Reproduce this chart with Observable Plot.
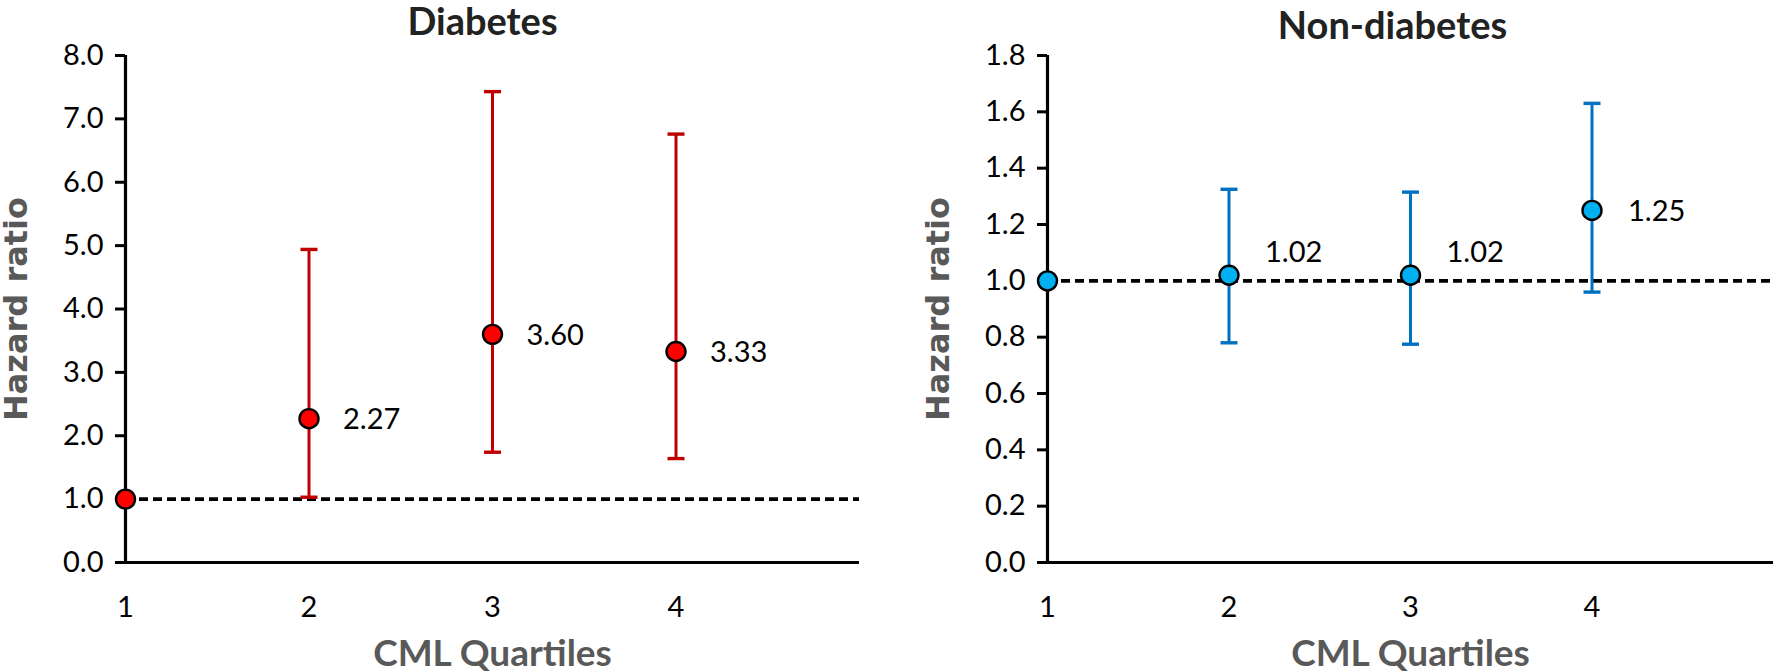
<!DOCTYPE html>
<html>
<head>
<meta charset="utf-8">
<script src="https://cdn.jsdelivr.net/npm/d3@7"></script>
<script src="https://cdn.jsdelivr.net/npm/@observablehq/plot@0.6"></script>
<style>
  html, body { margin: 0; padding: 0; background: #fff; width: 1776px; height: 671px; overflow: hidden; }
  #left, #right { position: absolute; top: 0; }
  #left { left: 0; }
  #right { left: 888px; }
</style>
</head>
<body>
<div id="left"></div>
<div id="right"></div>
<script>
// ---- data ----
const quartiles = [1, 2, 3, 4];
const xTicks = [1, 2, 3, 4];
const xDomain = [1, 5];

const diabetesHR = [1.00, 2.27, 3.60, 3.33];
const diabetesLower = [null, 1.03, 1.74, 1.64];
const diabetesUpper = [null, 4.94, 7.43, 6.76];
const diabetesTicks = [0, 1, 2, 3, 4, 5, 6, 7, 8];

const nonDiabetesHR = [1.00, 1.02, 1.02, 1.25];
const nonDiabetesLower = [null, 0.78, 0.775, 0.96];
const nonDiabetesUpper = [null, 1.325, 1.315, 1.63];
const nonDiabetesTicks = [0, 0.2, 0.4, 0.6, 0.8, 1.0, 1.2, 1.4, 1.6, 1.8];

const xLabel = "CML Quartiles";
const yLabel = "Hazard ratio";

// horizontal cap symbol for error bars
const capSymbol = {
  draw(context, size) {
    const w = Math.sqrt(size / Math.PI);
    context.moveTo(-w, 0);
    context.lineTo(w, 0);
  }
};

function panel(cfg) {
  const rows = quartiles.map((q, i) => ({
    q, hr: cfg.hr[i], lo: cfg.lo[i], hi: cfg.hi[i],
    label: i === 0 ? "" : cfg.hr[i].toFixed(2)
  }));
  const ci = rows.filter(d => d.lo != null);
  const labelled = rows.filter(d => d.label);
  const lifted = cfg.liftNearOne ? labelled.filter(d => d.hr < 1.1) : [];
  const plain = labelled.filter(d => !lifted.includes(d));
  const yDomain = [cfg.ticks[0], cfg.ticks[cfg.ticks.length - 1]];
  return Plot.plot({
    width: cfg.width,
    height: 671,
    marginTop: 55,
    marginBottom: 109,
    marginLeft: cfg.marginLeft,
    marginRight: cfg.marginRight,
    style: { fontFamily: "Lato, sans-serif", background: "white", overflow: "visible", color: "#000" },
    x: { domain: xDomain },
    y: { domain: yDomain },
    marks: [
      Plot.axisY({
        ticks: cfg.ticks, tickFormat: d => d.toFixed(1), tickSize: 10, tickPadding: 12,
        strokeWidth: 3, stroke: "#000", fontSize: 29, fill: "#000", label: null
      }),
      Plot.axisX({
        ticks: xTicks, tickFormat: d => String(d), tickSize: 0, tickPadding: 34,
        fontSize: 29, fill: "#000", label: null
      }),
      Plot.ruleY([yDomain[0]], { stroke: "#000", strokeWidth: 3.2 }),
      Plot.ruleX([xDomain[0]], { stroke: "#000", strokeWidth: 3.2 }),
      Plot.ruleY([1], { stroke: "#000", strokeWidth: 3.6, strokeDasharray: "9,5" }),
      Plot.ruleX(ci, { x: "q", y1: "lo", y2: "hi", stroke: cfg.barColor, strokeWidth: 3 }),
      Plot.dot(ci, { x: "q", y: "lo", symbol: capSymbol, r: 8.5, fill: "none", stroke: cfg.barColor, strokeWidth: 3.4 }),
      Plot.dot(ci, { x: "q", y: "hi", symbol: capSymbol, r: 8.5, fill: "none", stroke: cfg.barColor, strokeWidth: 3.4 }),
      Plot.dot(rows, { x: "q", y: "hr", r: 9.5, fill: cfg.fill, stroke: "#000", strokeWidth: 2.4 }),
      Plot.text(plain, { x: "q", y: "hr", text: "label", dx: cfg.labelDx, dy: 1, textAnchor: "start", fontSize: 29, fill: "#000" }),
      Plot.text(lifted, { x: "q", y: "hr", text: "label", dx: cfg.labelDx, dy: -22, textAnchor: "start", fontSize: 29, fill: "#000" }),
      Plot.text([cfg.title], { text: d => d, frameAnchor: "top", lineAnchor: "middle", textAnchor: "middle", dx: cfg.titleDx, dy: cfg.titleDy, fontSize: 38, fontWeight: "bold", fill: "#222" }),
      Plot.text([xLabel], { text: d => d, frameAnchor: "bottom", lineAnchor: "middle", textAnchor: "middle", dy: 92, fontSize: 37, fontWeight: "bold", fill: "#595959" }),
      Plot.text([yLabel], { text: d => d, frameAnchor: "left", lineAnchor: "middle", textAnchor: "middle", rotate: -90, dx: -109, fontFamily: "DejaVu Sans", fontSize: 32, fontWeight: "bold", fill: "#595959" })
    ]
  });
}

document.getElementById("left").append(panel({
  title: "Diabetes", hr: diabetesHR, lo: diabetesLower, hi: diabetesUpper,
  ticks: diabetesTicks, fill: "#FF0000", barColor: "#C00000",
  width: 888, marginLeft: 125, marginRight: 29,
  titleDx: -10, titleDy: -33, labelDx: 34, liftNearOne: false
}));

document.getElementById("right").append(panel({
  title: "Non-diabetes", hr: nonDiabetesHR, lo: nonDiabetesLower, hi: nonDiabetesUpper,
  ticks: nonDiabetesTicks, fill: "#00B0F0", barColor: "#0070C0",
  width: 888, marginLeft: 159, marginRight: 3,
  titleDx: -18, titleDy: -29, labelDx: 36, liftNearOne: true
}));
</script>
</body>
</html>
